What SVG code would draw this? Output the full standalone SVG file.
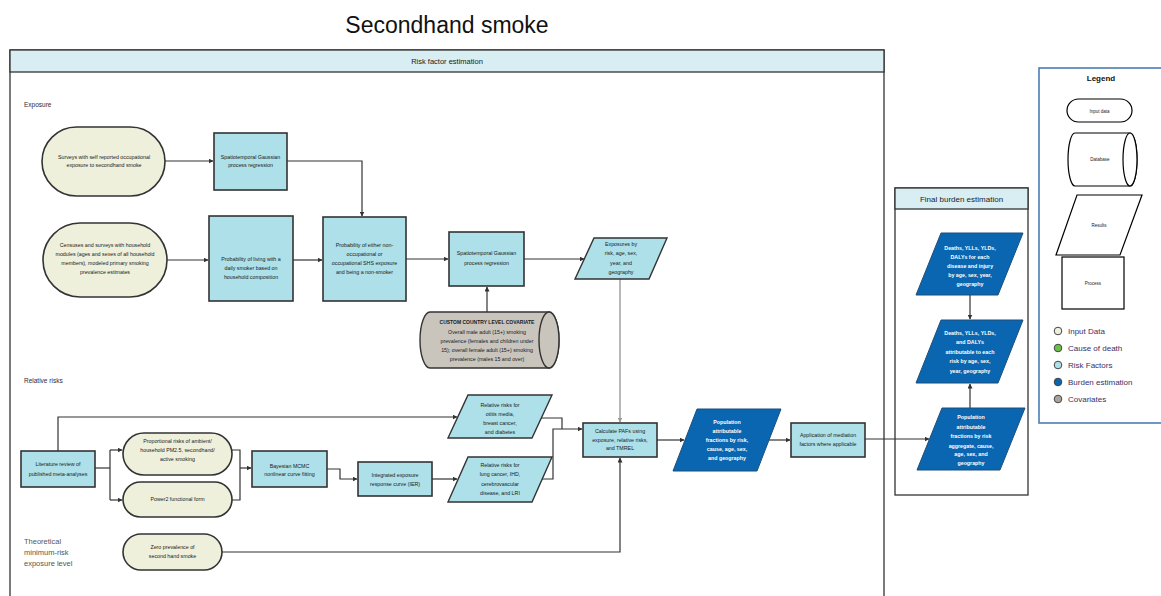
<svg xmlns="http://www.w3.org/2000/svg" width="1161" height="596" viewBox="0 0 1161 596">
  <defs>
    <marker id="arr" viewBox="0 0 10 10" refX="9" refY="5" markerWidth="5" markerHeight="5" orient="auto" markerUnits="userSpaceOnUse">
      <path d="M0,0 L10,5 L0,10 Z" fill="#333"/>
    </marker>
    <marker id="arrGray" viewBox="0 0 10 10" refX="9" refY="5" markerWidth="5" markerHeight="5" orient="auto" markerUnits="userSpaceOnUse">
      <path d="M0,0 L10,5 L0,10 Z" fill="#9a9a9a"/>
    </marker>
  </defs>
  <style>
    text { font-family: "Liberation Sans", Arial, sans-serif; fill: #1a1a1a; }
    .t { font-size: 5.3px; text-anchor: middle; }
    .tb { font-weight: bold; font-size: 5px; }
    .ts { font-size: 4.5px; }
    .tw { font-size: 5.3px; text-anchor: middle; fill: #ffffff; font-weight: bold; }
    .title { font-size: 23px; text-anchor: middle; fill: #111; }
    .sec { font-size: 6.5px; fill: #2a2a44; }
    .tmrel { font-size: 7.5px; fill: #555; }
    .hdr { font-size: 7.5px; text-anchor: middle; }
    .hdr2 { font-size: 8px; text-anchor: middle; fill: #222; }
    .lgtitle { font-size: 8px; font-weight: bold; text-anchor: middle; fill: #111; }
    .input { fill: #eef0dc; stroke: #333; stroke-width: 1.6; }
    .proc { fill: #ade0e8; stroke: #333; stroke-width: 1.6; }
    .res { fill: #ade0e8; stroke: #333; stroke-width: 1.4; }
    .burden { fill: #0a66b0; stroke: #1d4f7a; stroke-width: 1; }
    .cov { fill: #c9c5bd; stroke: #333; stroke-width: 1.4; }
    .frame { fill: #ffffff; stroke: #333; stroke-width: 1.3; }
    .bar { fill: #d8eef2; stroke: #333; stroke-width: 1.3; }
    .conn { fill: none; stroke: #333; stroke-width: 1.2; }
    .connGray { fill: none; stroke: #9a9a9a; stroke-width: 1.4; }
    .lg { fill: #ffffff; stroke: #000; stroke-width: 1.2; }
    .lgtxt { font-size: 8px; fill: #3a2f63; }
    .dot { stroke: #444; stroke-width: 1; }
  </style>

  <rect width="1161" height="596" fill="#ffffff"/>

  <!-- Title -->
  <text class="title" x="447" y="33">Secondhand smoke</text>

  <!-- Risk factor estimation panel -->
  <g id="panel-risk">
    <rect class="frame" x="10" y="50" width="874" height="560"/>
    <rect class="bar" x="10" y="50" width="874" height="22"/>
    <text class="hdr" x="447" y="63.5">Risk factor estimation</text>
    <text class="sec" x="24" y="107">Exposure</text>
    <text class="sec" x="24" y="383">Relative risks</text>
    <text class="tmrel" x="24" y="544">Theoretical</text>
    <text class="tmrel" x="24" y="555">minimum-risk</text>
    <text class="tmrel" x="24" y="566">exposure level</text>
  </g>

  <!-- Final burden estimation panel -->
  <g id="panel-burden">
    <rect class="frame" x="895" y="188" width="133" height="307"/>
    <rect class="bar" x="895" y="188" width="133" height="21"/>
    <text class="hdr2" x="961.5" y="201.5">Final burden estimation</text>
  </g>

  <!-- Connectors -->
  <g id="connectors">
    <path class="conn" d="M165,161 H213" marker-end="url(#arr)"/>
    <path class="conn" d="M287,161 H362 V216" marker-end="url(#arr)"/>
    <path class="conn" d="M167,260 H208" marker-end="url(#arr)"/>
    <path class="conn" d="M293,260 H322" marker-end="url(#arr)"/>
    <path class="conn" d="M406,259 H448" marker-end="url(#arr)"/>
    <path class="conn" d="M487,312 V287" marker-end="url(#arr)"/>
    <path class="conn" d="M524,259 H584" marker-end="url(#arr)"/>
    <path class="connGray" d="M620,279 V422" marker-end="url(#arrGray)"/>
    <path class="conn" d="M58,451 V417 H457" marker-end="url(#arr)"/>
    <path class="conn" d="M95,468 H110"/>
    <path class="conn" d="M110,450 V500"/>
    <path class="conn" d="M110,450 H122" marker-end="url(#arr)"/>
    <path class="conn" d="M110,500 H122" marker-end="url(#arr)"/>
    <path class="conn" d="M232,450 H240 V500 H232"/>
    <path class="conn" d="M240,468 H251" marker-end="url(#arr)"/>
    <path class="conn" d="M327,469 H340 V479 H357" marker-end="url(#arr)"/>
    <path class="conn" d="M432,479 H457" marker-end="url(#arr)"/>
    <path class="conn" d="M541,418 H562 V429"/>
    <path class="conn" d="M542,479 H553 V429 H582" marker-end="url(#arr)"/>
    <path class="conn" d="M222,552 H620 V458" marker-end="url(#arr)"/>
    <path class="conn" d="M657,440 H684" marker-end="url(#arr)"/>
    <path class="conn" d="M769,440 H790" marker-end="url(#arr)"/>
    <path class="conn" d="M865,439 H929" marker-end="url(#arr)"/>
    <path class="conn" d="M970,295 V319" marker-end="url(#arr)"/>
    <path class="conn" d="M970,408 V384" marker-end="url(#arr)"/>
  </g>

  <!-- Exposure nodes -->
  <g id="in-occupational">
    <rect class="input" x="42" y="127" width="123" height="69" rx="34.5"/>
    <text class="t" x="104" y="159">Surveys with self reported occupational</text>
    <text class="t" x="104" y="167">exposure to secondhand smoke</text>
  </g>
  <g id="st-gpr-1">
    <rect class="proc" x="214" y="133" width="73" height="57"/>
    <text class="t" x="250.5" y="159">Spatiotemporal Gaussian</text>
    <text class="t" x="250.5" y="167">process regression</text>
  </g>
  <g id="in-household">
    <rect class="input" x="43" y="223" width="124" height="74" rx="37"/>
    <text class="t" x="105" y="247">Censuses and surveys with household</text>
    <text class="t" x="105" y="256">modules (ages and sexes of all household</text>
    <text class="t" x="105" y="265">members), modeled primary smoking</text>
    <text class="t" x="105" y="274">prevalence estimates</text>
  </g>
  <g id="p-living-smoker">
    <rect class="proc" x="209" y="216" width="84" height="85"/>
    <text class="t" x="251" y="261">Probability of living with a</text>
    <text class="t" x="251" y="270">daily smoker based on</text>
    <text class="t" x="251" y="279">household composition</text>
  </g>
  <g id="p-shs-exposure">
    <rect class="proc" x="323" y="217" width="83" height="84"/>
    <text class="t" x="364.5" y="247">Probability of either non-</text>
    <text class="t" x="364.5" y="256">occupational or</text>
    <text class="t" x="364.5" y="265">occupational SHS exposure</text>
    <text class="t" x="364.5" y="274">and being a non-smoker</text>
  </g>
  <g id="st-gpr-2">
    <rect class="proc" x="449" y="232" width="75" height="54"/>
    <text class="t" x="486.5" y="255">Spatiotemporal Gaussian</text>
    <text class="t" x="486.5" y="265">process regression</text>
  </g>
  <g id="cov-smoking">
    <path class="cov" d="M430,312 H549 A10,28 0 0 1 549,368 H430 A10,28 0 0 1 430,312 Z"/>
    <ellipse class="cov" cx="549" cy="340" rx="10" ry="28"/>
    <text class="t tb" x="487" y="324">CUSTOM COUNTRY LEVEL COVARIATE</text>
    <text class="t" x="487" y="334">Overall male adult (15+) smoking</text>
    <text class="t" x="487" y="343">prevalence (females and children under</text>
    <text class="t" x="487" y="352">15); overall female adult (15+) smoking</text>
    <text class="t" x="487" y="361">prevalence (males 15 and over)</text>
  </g>
  <g id="r-exposures">
    <path class="res" d="M594,238 H667 L649,279 H575 Z"/>
    <text class="t" x="621" y="246">Exposures by</text>
    <text class="t" x="621" y="255">risk, age, sex,</text>
    <text class="t" x="621" y="265">year, and</text>
    <text class="t" x="621" y="274">geography</text>
  </g>

  <!-- Relative risk nodes -->
  <g id="p-literature">
    <rect class="proc" x="21" y="451" width="74" height="36"/>
    <text class="t" x="58" y="466">Literature review of</text>
    <text class="t" x="58" y="476">published meta-analyses</text>
  </g>
  <g id="in-proportional">
    <rect class="input" x="123" y="433" width="109" height="42" rx="21"/>
    <text class="t" x="177.5" y="443">Proportional risks of ambient/</text>
    <text class="t" x="177.5" y="452">household PM2.5, secondhand/</text>
    <text class="t" x="177.5" y="461">active smoking</text>
  </g>
  <g id="in-power2">
    <rect class="input" x="123" y="482" width="109" height="35" rx="17.5"/>
    <text class="t" x="177.5" y="501">Power2 functional form</text>
  </g>
  <g id="p-bayesian">
    <rect class="proc" x="252" y="451" width="75" height="36"/>
    <text class="t" x="289.5" y="468">Bayesian MCMC</text>
    <text class="t" x="289.5" y="476">nonlinear curve fitting</text>
  </g>
  <g id="p-ier">
    <rect class="proc" x="358" y="462" width="74" height="34"/>
    <text class="t" x="395" y="477">Integrated exposure</text>
    <text class="t" x="395" y="486">response curve (IER)</text>
  </g>
  <g id="r-rr-otitis">
    <path class="res" d="M468,395 H552 L532,438 H448 Z"/>
    <text class="t" x="500" y="407">Relative risks for</text>
    <text class="t" x="500" y="416">otitis media,</text>
    <text class="t" x="500" y="425">breast cancer,</text>
    <text class="t" x="500" y="434">and diabetes</text>
  </g>
  <g id="r-rr-lung">
    <path class="res" d="M468,457 H552 L532,502 H448 Z"/>
    <text class="t" x="500" y="467">Relative risks for</text>
    <text class="t" x="500" y="476">lung cancer, IHD,</text>
    <text class="t" x="500" y="486">cerebrovascular</text>
    <text class="t" x="500" y="495">disease, and LRI</text>
  </g>
  <g id="in-zero">
    <rect class="input" x="123" y="534" width="99" height="36" rx="18"/>
    <text class="t" x="172.5" y="549">Zero prevalence of</text>
    <text class="t" x="172.5" y="558">second hand smoke</text>
  </g>

  <!-- PAF calculation -->
  <g id="p-calc-paf">
    <rect class="proc" x="583" y="423" width="74" height="34"/>
    <text class="t" x="620" y="433">Calculate PAFs using</text>
    <text class="t" x="620" y="441.5">exposure, relative risks,</text>
    <text class="t" x="620" y="450">and TMREL</text>
  </g>
  <g id="b-paf">
    <path class="burden" d="M697,409 H781 L757,471 H673 Z"/>
    <text class="tw" x="727" y="424">Population</text>
    <text class="tw" x="727" y="432.5">attributable</text>
    <text class="tw" x="727" y="441.5">fractions by risk,</text>
    <text class="tw" x="727" y="451">cause, age, sex,</text>
    <text class="tw" x="727" y="460">and geography</text>
  </g>
  <g id="p-mediation">
    <rect class="proc" x="791" y="423" width="74" height="34"/>
    <text class="t" x="828" y="437">Application of mediation</text>
    <text class="t" x="828" y="446">factors where applicable</text>
  </g>

  <!-- Final burden nodes -->
  <g id="b-deaths">
    <path class="burden" d="M941,233 H1023 L998,295 H916 Z"/>
    <text class="tw" x="970" y="250">Deaths, YLLs, YLDs,</text>
    <text class="tw" x="970" y="259">DALYs for each</text>
    <text class="tw" x="970" y="268">disease and injury</text>
    <text class="tw" x="970" y="277">by age, sex, year,</text>
    <text class="tw" x="970" y="286">geography</text>
  </g>
  <g id="b-attributable">
    <path class="burden" d="M941,320 H1023 L998,383 H916 Z"/>
    <text class="tw" x="970" y="335">Deaths, YLLs, YLDs,</text>
    <text class="tw" x="970" y="344">and DALYs</text>
    <text class="tw" x="970" y="353.5">attributable to each</text>
    <text class="tw" x="970" y="363">risk by age, sex,</text>
    <text class="tw" x="970" y="372.5">year, geography</text>
  </g>
  <g id="b-paf-aggregate">
    <path class="burden" d="M942,408 H1025 L1000,470 H917 Z"/>
    <text class="tw" x="971" y="419">Population</text>
    <text class="tw" x="971" y="428.5">attributable</text>
    <text class="tw" x="971" y="438">fractions by risk</text>
    <text class="tw" x="971" y="447.5">aggregate, cause,</text>
    <text class="tw" x="971" y="456">age, sex, and</text>
    <text class="tw" x="971" y="465">geography</text>
  </g>

  <!-- Legend -->
  <g id="legend">
    <rect x="1039" y="68" width="130" height="355" fill="#ffffff" stroke="#4a7db5" stroke-width="1.6"/>
    <text class="lgtitle" x="1101" y="81">Legend</text>
    <rect class="lg" x="1067" y="99" width="65" height="23" rx="11.5"/>
    <text class="t ts" x="1099.5" y="112.5">Input data</text>
    <path class="lg" d="M1075,133 H1130 A7,26.5 0 0 1 1130,186 H1075 A7,26.5 0 0 1 1075,133 Z"/>
    <ellipse class="lg" cx="1130" cy="159.5" rx="7" ry="26.5"/>
    <text class="t ts" x="1100" y="161">Database</text>
    <path class="lg" d="M1077,195 H1142 L1120,255 H1056 Z"/>
    <text class="t ts" x="1099" y="227">Results</text>
    <rect class="lg" x="1062" y="257" width="62" height="52"/>
    <text class="t ts" x="1093" y="284.5">Process</text>
    <circle class="dot" cx="1058" cy="331" r="3.8" fill="#eef0dc"/>
    <text class="lgtxt" x="1068" y="334">Input Data</text>
    <circle class="dot" cx="1058" cy="348" r="3.8" fill="#6cc04a"/>
    <text class="lgtxt" x="1068" y="351">Cause of death</text>
    <circle class="dot" cx="1058" cy="365" r="3.8" fill="#ade0e8"/>
    <text class="lgtxt" x="1068" y="368">Risk Factors</text>
    <circle class="dot" cx="1058" cy="382" r="3.8" fill="#0a66b0"/>
    <text class="lgtxt" x="1068" y="385">Burden estimation</text>
    <circle class="dot" cx="1058" cy="399" r="3.8" fill="#a9a59e"/>
    <text class="lgtxt" x="1068" y="402">Covariates</text>
  </g>
</svg>
